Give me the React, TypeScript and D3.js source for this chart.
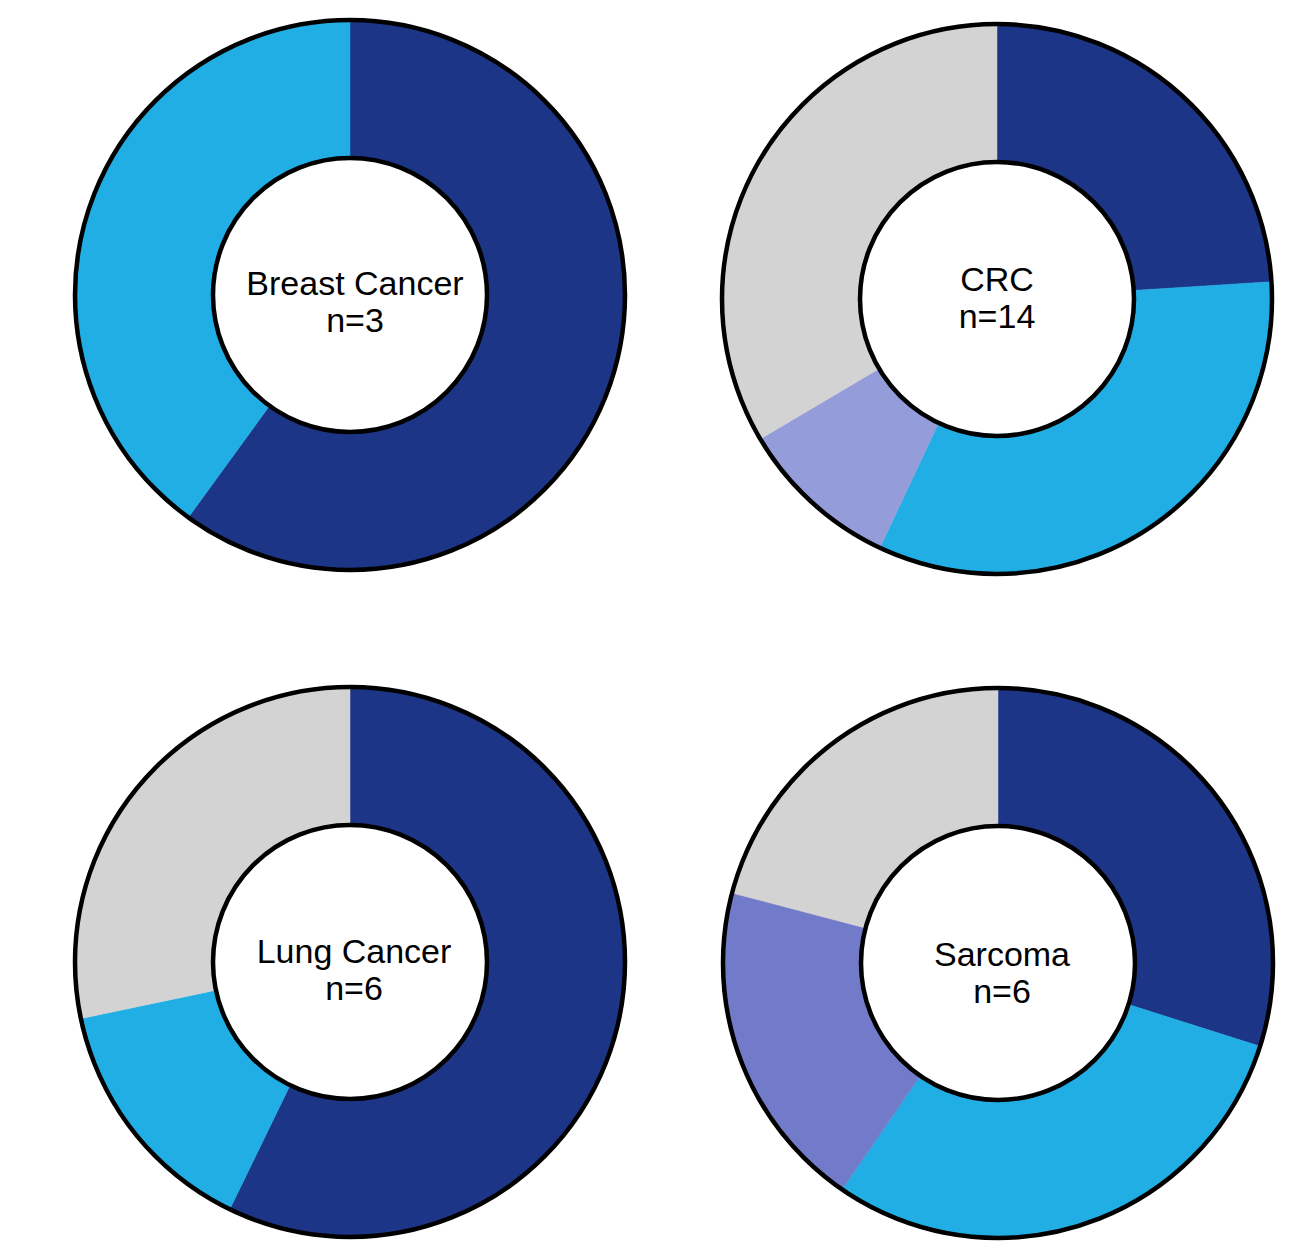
import React from 'react';
import * as d3 from 'd3';

// chart data
const cancerTypes = ['Breast Cancer', 'CRC', 'Lung Cancer', 'Sarcoma'];
const sampleSizes = [3, 14, 6, 6];
const breastValues = [60, 40];
const crcValues = [24, 33, 9.5, 33.5];
const lungValues = [57.2, 14.5, 28.3];
const sarcomaValues = [29.9, 29.7, 19.5, 20.9];

const NAVY = '#1D3586';
const SKY = '#21AEE5';
const LAVENDER = '#959CDA';
const PERIWINKLE = '#727BC9';
const GREY = '#D3D3D3';

const sliceColors = [
  [NAVY, SKY],
  [NAVY, SKY, LAVENDER, GREY],
  [NAVY, SKY, GREY],
  [NAVY, SKY, PERIWINKLE, GREY],
];
const allValues = [breastValues, crcValues, lungValues, sarcomaValues];

// layout: donut centres on the page, plus small label nudges
const centres: [number, number][] = [[350, 295], [997, 299], [350, 962], [998, 963]];
const labelDx = [5, 0, 4, 4];
const labelDy = [1, -7, 2, 4];

const outerR = 275;
const innerR = 137;

const pie = d3.pie<number>().value(d => d).sort(null).startAngle(0).endAngle(2 * Math.PI);
const arc = d3.arc<d3.PieArcDatum<number>>().innerRadius(innerR).outerRadius(outerR);

function Donut({ idx }: { idx: number }) {
  const [cx, cy] = centres[idx];
  const slices = pie(allValues[idx]);
  return (
    <g transform={`translate(${cx},${cy})`}>
      {slices.map((s, i) => (
        <path key={i} d={arc(s) || ''} fill={sliceColors[idx][i]} stroke={sliceColors[idx][i]} strokeWidth={0.5} />
      ))}
      <circle r={outerR} fill="none" stroke="#000" strokeWidth={4.5} />
      <circle r={innerR} fill="#fff" stroke="#000" strokeWidth={4.5} />
      <text
        textAnchor="middle"
        fontFamily="'Liberation Sans', Arial, sans-serif"
        fontSize={34}
        fill="#000"
      >
        <tspan x={labelDx[idx]} y={labelDy[idx] - 1}>{cancerTypes[idx]}</tspan>
        <tspan x={labelDx[idx]} y={labelDy[idx] + 36}>{`n=${sampleSizes[idx]}`}</tspan>
      </text>
    </g>
  );
}

export default function App() {
  return (
    <svg
      width={1292}
      height={1241}
      style={{ position: 'absolute', left: 0, top: 0, background: '#fff' }}
    >
      {cancerTypes.map((_, i) => (
        <Donut key={i} idx={i} />
      ))}
    </svg>
  );
}
